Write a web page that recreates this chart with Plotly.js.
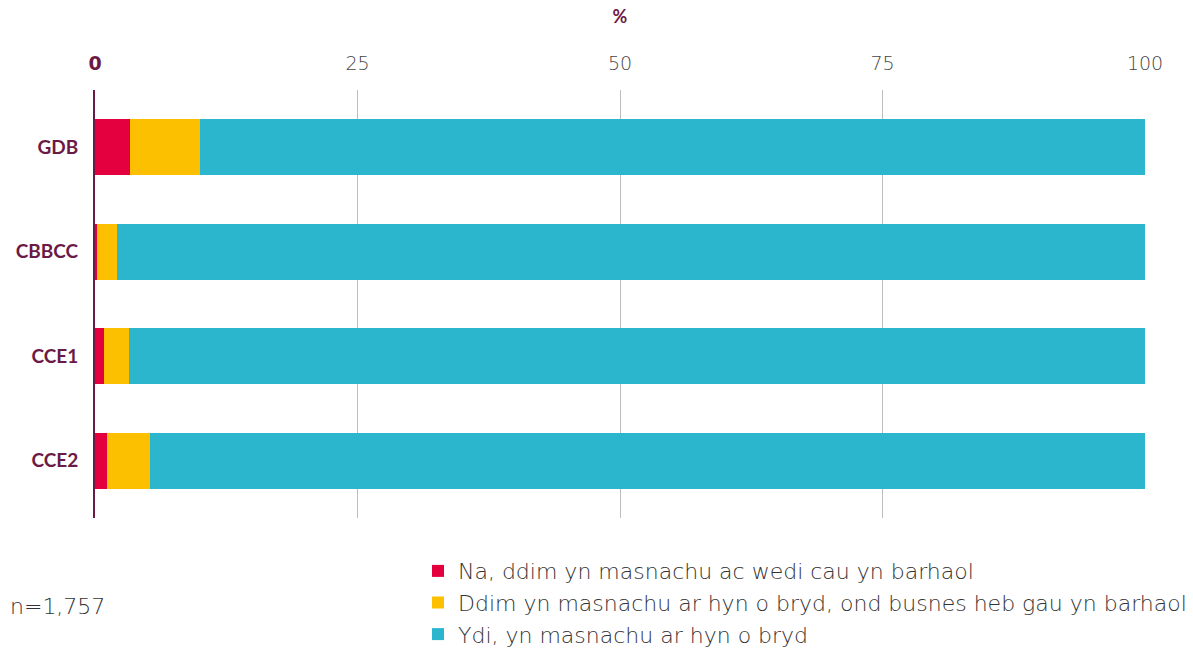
<!DOCTYPE html>
<html>
<head>
<meta charset="utf-8">
<script src="https://cdn.plot.ly/plotly-3.0.1.min.js"></script>
<style>html,body{margin:0;padding:0;background:#fff}#chart{width:1193px;height:654px}</style>
</head>
<body>
<div id="chart"></div>
<script>
const categories = ["GDB", "CBBCC", "CCE1", "CCE2"];
const seriesNames = [
  "Na, ddim yn masnachu ac wedi cau yn barhaol",
  "Ddim yn masnachu ar hyn o bryd, ond busnes heb gau yn barhaol",
  "Ydi, yn masnachu ar hyn o bryd"
];
const closedValues = [3.3, 0.2, 0.9, 1.1];
const notTradingValues = [6.7, 1.9, 2.3, 4.1];
const tradingValues = [90.0, 97.9, 96.8, 94.8];
const seriesColors = ["#e4003f", "#fcc000", "#2bb6ce"];
const tickValues = [0, 25, 50, 75, 100];
const tickLabels = ['<span style="color:#6b1a45;font-weight:bold">0</span>', "25", "50", "75", "100"];
const sampleNote = "n=1,757";

const maroon = "#6b1a45";
const lightFont = "'DejaVu Sans', sans-serif";
const allValues = [closedValues, notTradingValues, tradingValues];
const traces = allValues.map((vals, i) => ({
  type: "bar",
  orientation: "h",
  name: seriesNames[i],
  x: vals,
  y: categories,
  marker: {color: seriesColors[i], line: {width: 0}},
  hoverinfo: "x+y+name"
}));

const layout = {
  width: 1193,
  height: 654,
  barmode: "stack",
  bargap: 0.465,
  margin: {l: 95, r: 48, t: 90, b: 136, autoexpand: false},
  paper_bgcolor: "#fff",
  plot_bgcolor: "#fff",
  font: {family: lightFont, color: "#444"},
  xaxis: {
    side: "top",
    range: [0, 100],
    tickvals: tickValues,
    ticktext: tickLabels,
    tickfont: {size: 19, color: "#444", family: lightFont, weight: 200},
    showgrid: true,
    gridcolor: "#bdbdbd",
    gridwidth: 1,
    zeroline: false,
    showline: false,
    ticks: "",
    ticklabelstandoff: 15,
    title: {text: "<b>%</b>", font: {size: 18, color: maroon, family: "Lato, sans-serif"}, standoff: 23},
    fixedrange: true
  },
  yaxis: {
    range: [3.55, -0.55],
    tickfont: {size: 19, color: maroon, family: "Lato, sans-serif", weight: "bold"},
    showline: true,
    linecolor: maroon,
    linewidth: 2,
    showgrid: false,
    zeroline: false,
    ticks: "",
    ticklabelstandoff: 11,
    fixedrange: true
  },
  showlegend: true,
  legend: {
    x: 0.3076,
    y: -0.075,
    xanchor: "left",
    yanchor: "top",
    orientation: "v",
    font: {size: 22, color: "#333", family: lightFont, weight: 200},
    traceorder: "normal",
    itemwidth: 30,
    tracegroupgap: 0,
    bgcolor: "rgba(0,0,0,0)"
  },
  annotations: [{
    text: sampleNote,
    xref: "paper", yref: "paper",
    x: -0.083, y: -0.206,
    xanchor: "left", yanchor: "middle",
    showarrow: false,
    font: {size: 22, color: "#333", family: lightFont, weight: 200}
  }]
};

Plotly.newPlot("chart", traces, layout, {displayModeBar: false, staticPlot: true});
</script>
</body>
</html>
